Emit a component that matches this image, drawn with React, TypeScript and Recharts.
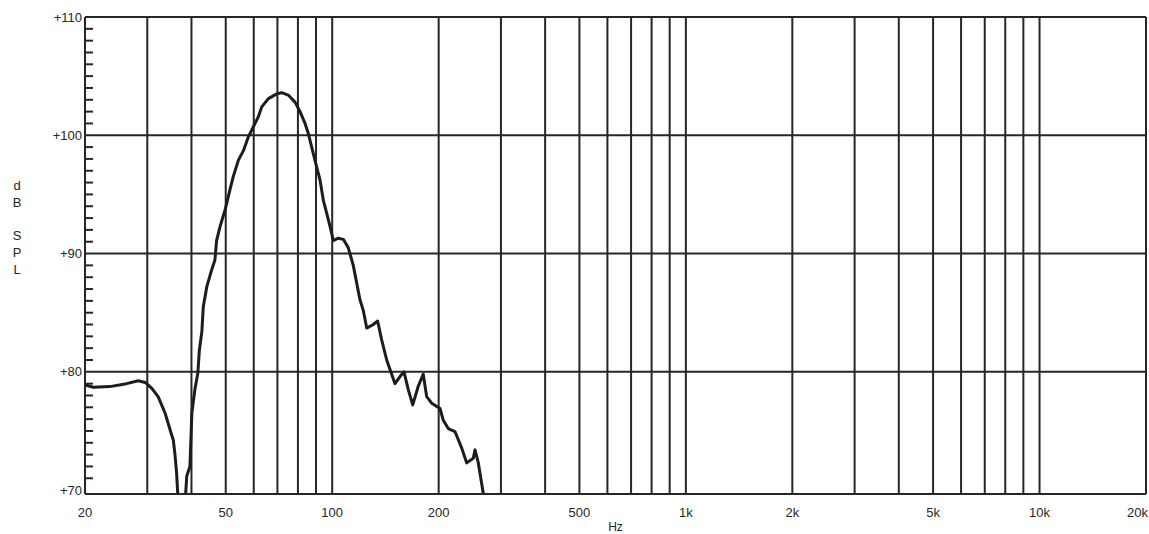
import React from 'react';
import { LineChart, Line, XAxis, YAxis, CartesianGrid, ReferenceLine } from 'recharts';

// frequency response, Hz vs dB SPL
const freqs = [
  20, 21.1, 23.5, 26.2, 28.3, 29.6, 30.9, 32.2, 33.7, 34.8, 35.55, 35.9, 36.3, 36.6, 37.4,
  38.2, 38.8, 39.6, 40.1, 40.9, 41.7, 42.1, 42.8, 43.2, 44.2, 45.6, 46.6, 47.1, 48.2, 49.8,
  51.4, 52.5, 54.3, 56.1, 57.9, 59.8, 61.8, 63.2, 66.0, 69.7, 72.0, 75.1, 78.5, 81.1, 83.8,
  85.6, 87.5, 90.4, 92.4, 94.4, 96.5, 98.6, 100.7, 104.0, 107.5, 111, 114.7, 119.8, 122.4, 125.2,
  130.7, 134.4, 138, 142.6, 145.7, 150.5, 155.5, 159.6, 164.1, 168.9, 175.2, 180.9, 185, 191.1, 201.8,
  206.1, 212.9, 222.4, 232.4, 240.1, 250.6, 253.4, 258.9, 267.5,
];
const spl = [
  78.9, 78.7, 78.75, 79.0, 79.25, 79.1, 78.6, 77.9, 76.5, 75.1, 74.2, 73.1, 71.5, 69.6, 64,
  68, 71.2, 72.0, 76.5, 78.5, 79.9, 81.8, 83.4, 85.5, 87.2, 88.6, 89.45, 91.1, 92.3, 93.7,
  95.4, 96.5, 97.9, 98.7, 99.85, 100.7, 101.55, 102.4, 103.1, 103.5, 103.6, 103.4, 102.8, 102.0, 101.0,
  100.15, 99.0, 97.3, 96.2, 94.5, 93.4, 92.3, 91.1, 91.3, 91.2, 90.5, 89.0, 86.1, 85.2, 83.7,
  84.0, 84.3, 82.7, 81.0, 80.2, 79.0, 79.6, 80.0, 78.5, 77.2, 78.8, 79.8, 77.9, 77.35, 76.9,
  75.9, 75.2, 74.95, 73.55, 72.3, 72.7, 73.4, 72.3, 69.7,
];

const gridFreqs = [
  20, 30, 40, 50, 60, 70, 80, 90, 100, 200, 300, 400, 500, 600, 700, 800, 900,
  1000, 2000, 3000, 4000, 5000, 6000, 7000, 8000, 9000, 10000, 20000,
];
const labeledFreqs = [20, 50, 100, 200, 500, 1000, 2000, 5000, 10000, 20000];
const gridDb = [80, 90, 100, 110];
const dbTicks = Array.from({ length: 41 }, (_, i) => 70 + i);

const data = freqs.map((f, i) => ({ f, db: spl[i] }));

const ink = '#262626';
const font = 'Liberation Sans, Arial, Helvetica, sans-serif';

const fmtHz = (v: number) => (v >= 1000 ? `${v / 1000}k` : `${v}`);

const XTick = (props: any) => {
  const { x, y, payload } = props;
  const v = payload.value;
  if (!labeledFreqs.includes(v)) return null;
  const last = v === 20000;
  return (
    <text
      x={last ? x + 2 : x}
      y={y}
      dy="0.71em"
      textAnchor={last ? 'end' : 'middle'}
      fontSize={13}
      fill={ink}
      fontFamily={font}
    >
      {fmtHz(v)}
    </text>
  );
};

const YTick = (props: any) => {
  const { x, y, payload } = props;
  const v = payload.value;
  if (v % 10 === 0) {
    return (
      <text x={x - 3} y={y} dy="0.35em" textAnchor="end" fontSize={13} fill={ink} fontFamily={font}>
        {`+${v}`}
      </text>
    );
  }
  return <line x1={x} x2={x + 8} y1={y} y2={y} stroke={ink} strokeWidth={2} />;
};

const YTitle = (props: any) => {
  const vb = props.viewBox;
  const cx = vb.x + 17;
  const cy = vb.y + vb.height / 2 - 28;
  const letters = ['d', 'B', '', 'S', 'P', 'L'];
  return (
    <text x={cx} y={cy} textAnchor="middle" fontSize={13} fill={ink} fontFamily={font}>
      {letters.map((l, i) => (
        <tspan key={i} x={cx} y={cy + (i - 2.5) * 16.8} dy="0.35em">
          {l || '\u00a0'}
        </tspan>
      ))}
    </text>
  );
};

export default function App() {
  return (
    <div style={{ position: 'absolute', left: 0, top: 0, width: 1149, height: 534, overflow: 'hidden' }}>
      <LineChart
        width={1149}
        height={534}
        data={data}
        margin={{ top: 17, right: 3, left: 0, bottom: 0 }}
      >
        <CartesianGrid horizontal={false} stroke={ink} strokeWidth={2} />
        <XAxis
          dataKey="f"
          type="number"
          scale="log"
          domain={[20, 20000]}
          ticks={gridFreqs}
          interval={0}
          tick={<XTick />}
          tickLine={false}
          axisLine={{ stroke: ink, strokeWidth: 2 }}
          tickMargin={8}
          height={40}
          allowDataOverflow
          label={{ value: 'Hz', position: 'insideBottom', offset: 3, fontSize: 12, fill: ink, fontFamily: font }}
        />
        <YAxis
          type="number"
          domain={[69.67, 110]}
          ticks={dbTicks}
          interval={0}
          tick={<YTick />}
          tickLine={false}
          tickSize={0}
          tickMargin={0}
          axisLine={{ stroke: ink, strokeWidth: 2 }}
          width={85}
          allowDataOverflow
          label={<YTitle />}
        />
        {gridDb.map((d) => (
          <ReferenceLine key={d} y={d} stroke={ink} strokeWidth={2} ifOverflow="extendDomain" />
        ))}
        <ReferenceLine x={20000} stroke={ink} strokeWidth={2} />
        <Line
          type="linear"
          dataKey="db"
          stroke="#1c1c1c"
          strokeWidth={3}
          dot={false}
          isAnimationActive={false}
          strokeLinejoin="round"
        />
      </LineChart>
    </div>
  );
}
